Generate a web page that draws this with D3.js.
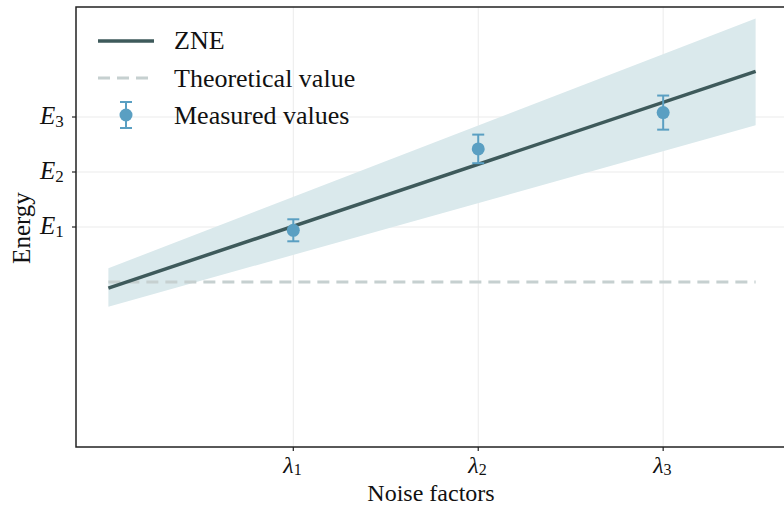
<!DOCTYPE html>
<html>
<head>
<meta charset="utf-8">
<script src="https://cdn.jsdelivr.net/npm/d3@7"></script>
<style>
  body { margin: 0; background: #fff; }
</style>
</head>
<body>
<script>
// Daten
var noiseFactors = [1, 2, 3];
var xTickLabels = ["1", "2", "3"];          // λ subscripts
var energyTicks = [1, 2, 3];                // E subscripts
var measured = [0.94, 2.42, 3.08];
var measuredErr = [0.2, 0.26, 0.31];
var zneX = [0, 3.5];
var zneY = [-0.11, 3.83];
var bandLow = [-0.45, 2.85];
var bandHigh = [0.25, 4.79];
var theoretical = 0;

var fontFam = "'Liberation Serif', 'Times New Roman', serif";
var width = 784, height = 507;
var margin = {top: 7, right: -4, bottom: 60, left: 76};

var svg = d3.select("body").append("svg")
    .attr("width", width)
    .attr("height", height);

var x = d3.scaleLinear().domain([-0.175, 3.675]).range([margin.left, width - margin.right]);
var y = d3.scaleLinear().domain([-3, 5]).range([height - margin.bottom, margin.top]);

// Hilfsfunktion für Texte
function txt(sel, size) {
    return sel.style("font-family", fontFam)
        .style("font-size", size + "px")
        .style("fill", "#111");
}

// Gitterlinien
svg.append("g").selectAll("line").data(noiseFactors).enter().append("line")
    .attr("x1", d => x(d)).attr("x2", d => x(d))
    .attr("y1", y(-3)).attr("y2", y(5))
    .style("stroke", "#ebebeb").style("stroke-width", 1);
svg.append("g").selectAll("line").data(energyTicks).enter().append("line")
    .attr("x1", x(-0.175)).attr("x2", x(3.675))
    .attr("y1", d => y(d)).attr("y2", d => y(d))
    .style("stroke", "#ebebeb").style("stroke-width", 1);

// Konfidenzband
var bandData = zneX.map((d, i) => ({x: d, lo: bandLow[i], hi: bandHigh[i]}));
svg.append("path")
    .datum(bandData)
    .attr("d", d3.area().x(d => x(d.x)).y0(d => y(d.lo)).y1(d => y(d.hi)))
    .style("fill", "#dae9ec");

// Theoretischer Wert
svg.append("line")
    .attr("x1", x(zneX[0])).attr("x2", x(zneX[1]))
    .attr("y1", y(theoretical)).attr("y2", y(theoretical))
    .style("stroke", "#c6d0d0").style("stroke-width", 3)
    .style("stroke-dasharray", "12,7");

// ZNE Linie
svg.append("path")
    .datum(zneX.map((d, i) => [d, zneY[i]]))
    .attr("d", d3.line().x(d => x(d[0])).y(d => y(d[1])))
    .style("fill", "none").style("stroke", "#3e5a5b").style("stroke-width", 3.5);

// Messwerte mit Fehlerbalken
var pts = noiseFactors.map((d, i) => ({x: d, y: measured[i], e: measuredErr[i]}));
var pg = svg.append("g").selectAll("g").data(pts).enter().append("g")
    .style("stroke", "#5a9fc2").style("fill", "#5a9fc2");
pg.append("line")
    .attr("x1", d => x(d.x)).attr("x2", d => x(d.x))
    .attr("y1", d => y(d.y - d.e)).attr("y2", d => y(d.y + d.e))
    .style("stroke-width", 2);
pg.append("line")
    .attr("x1", d => x(d.x) - 6).attr("x2", d => x(d.x) + 6)
    .attr("y1", d => y(d.y + d.e)).attr("y2", d => y(d.y + d.e))
    .style("stroke-width", 2);
pg.append("line")
    .attr("x1", d => x(d.x) - 6).attr("x2", d => x(d.x) + 6)
    .attr("y1", d => y(d.y - d.e)).attr("y2", d => y(d.y - d.e))
    .style("stroke-width", 2);
pg.append("circle")
    .attr("cx", d => x(d.x)).attr("cy", d => y(d.y)).attr("r", 6.5)
    .style("stroke", "none");

// Achsenrahmen
svg.append("rect")
    .attr("x", x(-0.175)).attr("y", y(5))
    .attr("width", x(3.675) - x(-0.175)).attr("height", y(-3) - y(5))
    .style("fill", "none").style("stroke", "#222").style("stroke-width", 1.5);

// X-Ticks
var xt = svg.append("g").selectAll("g").data(noiseFactors).enter().append("g");
xt.append("line")
    .attr("x1", d => x(d)).attr("x2", d => x(d))
    .attr("y1", y(-3)).attr("y2", y(-3) + 4)
    .style("stroke", "#222").style("stroke-width", 1.2);
var xl = txt(xt.append("text"), 24)
    .attr("x", d => x(d) - 10).attr("y", y(-3) + 26);
xl.append("tspan").style("font-style", "italic").text("λ");
xl.append("tspan").attr("dy", 2).style("font-size", "16px").text((d, i) => xTickLabels[i]);

// Y-Ticks
var yt = svg.append("g").selectAll("g").data(energyTicks).enter().append("g");
yt.append("line")
    .attr("x1", x(-0.175) - 4).attr("x2", x(-0.175))
    .attr("y1", d => y(d)).attr("y2", d => y(d))
    .style("stroke", "#222").style("stroke-width", 1.2);
var yl = txt(yt.append("text"), 25)
    .attr("x", 40).attr("y", d => y(d) + 7);
yl.append("tspan").style("font-style", "italic").text("E");
yl.append("tspan").attr("dy", 3).style("font-size", "17px").text(d => d);

// Achsentitel
txt(svg.append("text"), 24)
    .attr("x", 431).attr("y", 501)
    .attr("text-anchor", "middle")
    .text("Noise factors");
txt(svg.append("text"), 25)
    .attr("transform", "translate(30," + (y(1) + 1) + ") rotate(-90)")
    .attr("text-anchor", "middle")
    .text("Energy");

// Legende
var legend = svg.append("g");
legend.append("line")
    .attr("x1", 98).attr("x2", 154).attr("y1", 41).attr("y2", 41)
    .style("stroke", "#3e5a5b").style("stroke-width", 3.5);
legend.append("line")
    .attr("x1", 98).attr("x2", 154).attr("y1", 78).attr("y2", 78)
    .style("stroke", "#c6d0d0").style("stroke-width", 3)
    .style("stroke-dasharray", "12,7");
var lm = legend.append("g").style("stroke", "#5a9fc2").style("fill", "#5a9fc2");
lm.append("line").attr("x1", 126).attr("x2", 126).attr("y1", 102).attr("y2", 128).style("stroke-width", 2);
lm.append("line").attr("x1", 120).attr("x2", 132).attr("y1", 102).attr("y2", 102).style("stroke-width", 2);
lm.append("line").attr("x1", 120).attr("x2", 132).attr("y1", 128).attr("y2", 128).style("stroke-width", 2);
lm.append("circle").attr("cx", 126).attr("cy", 115).attr("r", 6.5).style("stroke", "none");
txt(legend.selectAll("text")
    .data(["ZNE", "Theoretical value", "Measured values"])
    .enter().append("text"), 26)
    .attr("x", 174).attr("y", (d, i) => 49 + i * 37.5)
    .text(d => d);
</script>
</body>
</html>
